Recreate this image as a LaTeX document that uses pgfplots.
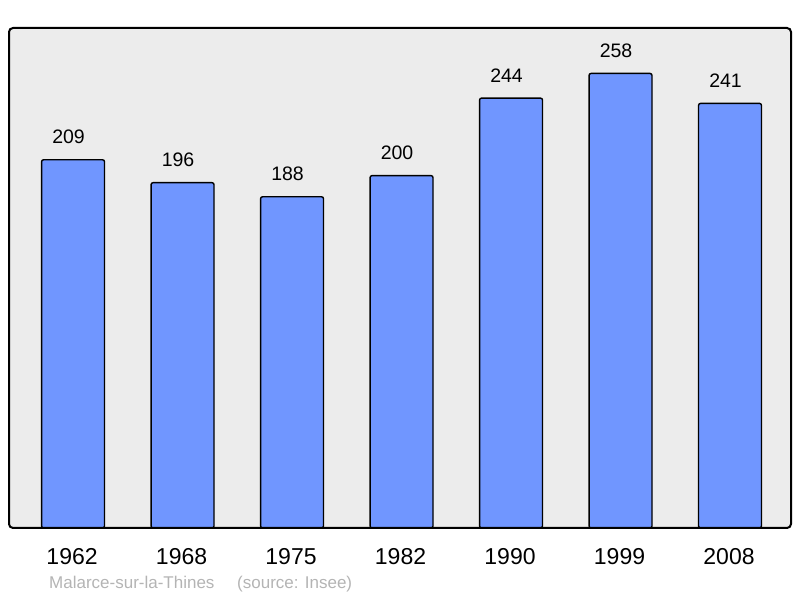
\documentclass[border=0pt]{standalone}
\usepackage{fontspec}
\setmainfont{Liberation Sans}
\usepackage{pgfplots}
\pgfplotsset{compat=1.18}
\definecolor{bgc}{RGB}{236,236,236}
\definecolor{barc}{RGB}{112,150,255}
\definecolor{footc}{RGB}{180,180,180}
\begin{document}
\begin{tikzpicture}[x=1bp,y=1bp]
\useasboundingbox (0,0) rectangle (800,598);
\begin{axis}[name=ax, at={(9bp,70bp)}, anchor=south west, scale only axis,
  width=782bp, height=500bp,
  xmin=-0.585, xmax=6.557, ymin=0, ymax=283.8,
  axis line style={draw=none}, axis background/.style={fill=bgc},
  ytick=\empty, xtick=data, xticklabels={1962,1968,1975,1982,1990,1999,2008},
  major tick length=0pt,
  xticklabel style={anchor=base, inner sep=0pt, yshift=-36.7bp, xshift=-1bp, font=\fontsize{23bp}{27bp}\selectfont},
  ybar, bar width=0.575,
  nodes near coords,
  every node near coord/.append style={anchor=south, inner sep=0pt, yshift=15bp, xshift=-4.5bp, font=\fontsize{19.5bp}{23bp}\selectfont},
  /pgf/number format/assume math mode=true,
]
\addplot[fill=barc, draw=black, line width=1.4bp, rounded corners=2bp] coordinates {(0,209) (1,196) (2,188) (3,200) (4,244) (5,258) (6,241)};
\end{axis}
\draw[line width=2bp, rounded corners=4bp] (ax.south west) rectangle (ax.north east);
\node[anchor=base west, inner sep=0pt, text=footc, font=\fontsize{17bp}{20bp}\selectfont] at (49,9) {Malarce-sur-la-Thines};
\node[anchor=base west, inner sep=0pt, text=footc, font=\fontsize{17bp}{20bp}\selectfont] at (237,9) {(source: Insee)};
\end{tikzpicture}
\end{document}
